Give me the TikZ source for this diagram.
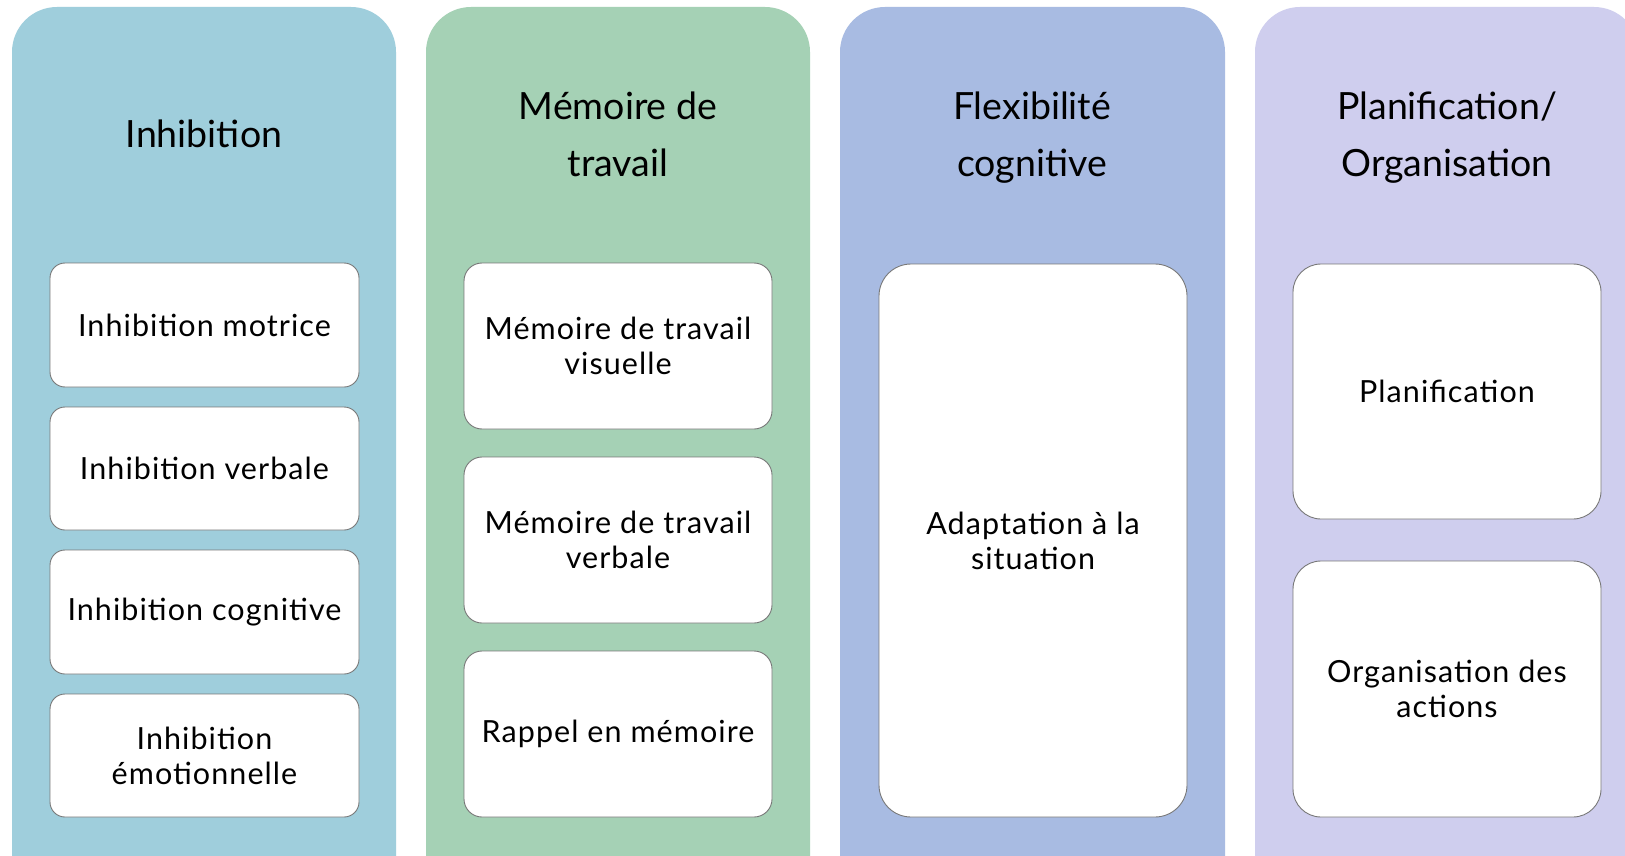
\documentclass[tikz,border=0pt]{standalone}
\usepackage{fontspec}
\setmainfont{Lato}
\newfontfamily\boxfont[LetterSpace=3.5]{Lato}
\definecolor{panelA}{RGB}{159,206,220}
\definecolor{panelB}{RGB}{165,209,181}
\definecolor{panelC}{RGB}{168,187,226}
\definecolor{panelD}{RGB}{207,206,238}
\definecolor{edgegray}{RGB}{120,120,120}
\tikzset{
  panel/.style={rounded corners=45pt},
  title/.style={align=center, font=\fontsize{37.5}{57}\selectfont, text=black},
  ibox/.style={draw=edgegray, line width=0.9pt, fill=white, align=center,
    inner sep=0pt, font=\boxfont\fontsize{30.5}{35}\selectfont, text=black},
}
\begin{document}
\begin{tikzpicture}[x=1pt,y=-1pt]
  \useasboundingbox (0,0) rectangle (1625,856);
  \clip (0,0) rectangle (1625,856);
  \fill[white] (0,0) rectangle (1625,856);

  % column panels (bottom edge runs past the page)
  \fill[panel, panelA] (12,7) rectangle (396,905);
  \fill[panel, panelB] (426,7) rectangle (810,905);
  \fill[panel, panelC] (840,7) rectangle (1225,905);
  \fill[panel, panelD] (1255,7) rectangle (1639,905);

  % titles
  \node[title] (t1) at (204,134) {Inhibition};
  \node[title] (t2) at (618,134) {Mémoire de\\travail};
  \node[title] (t3) at (1032,138) {Flexibilité\\cognitive};
  \node[title] (t4) at (1447,138) {Planification/\\Organisation};

  % Inhibition
  \node[ibox, rounded corners=15pt, minimum width=309, minimum height=124] (a1) at (204.5,325) {Inhibition motrice};
  \node[ibox, rounded corners=15pt, minimum width=309, minimum height=123] (a2) at (204.5,468.5) {Inhibition verbale};
  \node[ibox, rounded corners=15pt, minimum width=309, minimum height=124] (a3) at (204.5,612) {Inhibition cognitive};
  \node[ibox, rounded corners=15pt, minimum width=309, minimum height=123] (a4) at (204.5,755.5) {Inhibition\\émotionnelle};

  % Mémoire de travail
  \node[ibox, rounded corners=18pt, minimum width=308, minimum height=166] (b1) at (618,346) {Mémoire de travail\\visuelle};
  \node[ibox, rounded corners=18pt, minimum width=308, minimum height=166] (b2) at (618,540) {Mémoire de travail\\verbale};
  \node[ibox, rounded corners=18pt, minimum width=308, minimum height=166] (b3) at (618,734) {Rappel en mémoire};

  % Flexibilité cognitive
  \node[ibox, rounded corners=32pt, minimum width=308, minimum height=553] (c1) at (1033,540.5) {Adaptation à la\\situation};

  % Planification / Organisation
  \node[ibox, rounded corners=28pt, minimum width=308, minimum height=255] (d1) at (1447,391.5) {Planification};
  \node[ibox, rounded corners=28pt, minimum width=308, minimum height=256] (d2) at (1447,689) {Organisation des\\actions};
\end{tikzpicture}
\end{document}
